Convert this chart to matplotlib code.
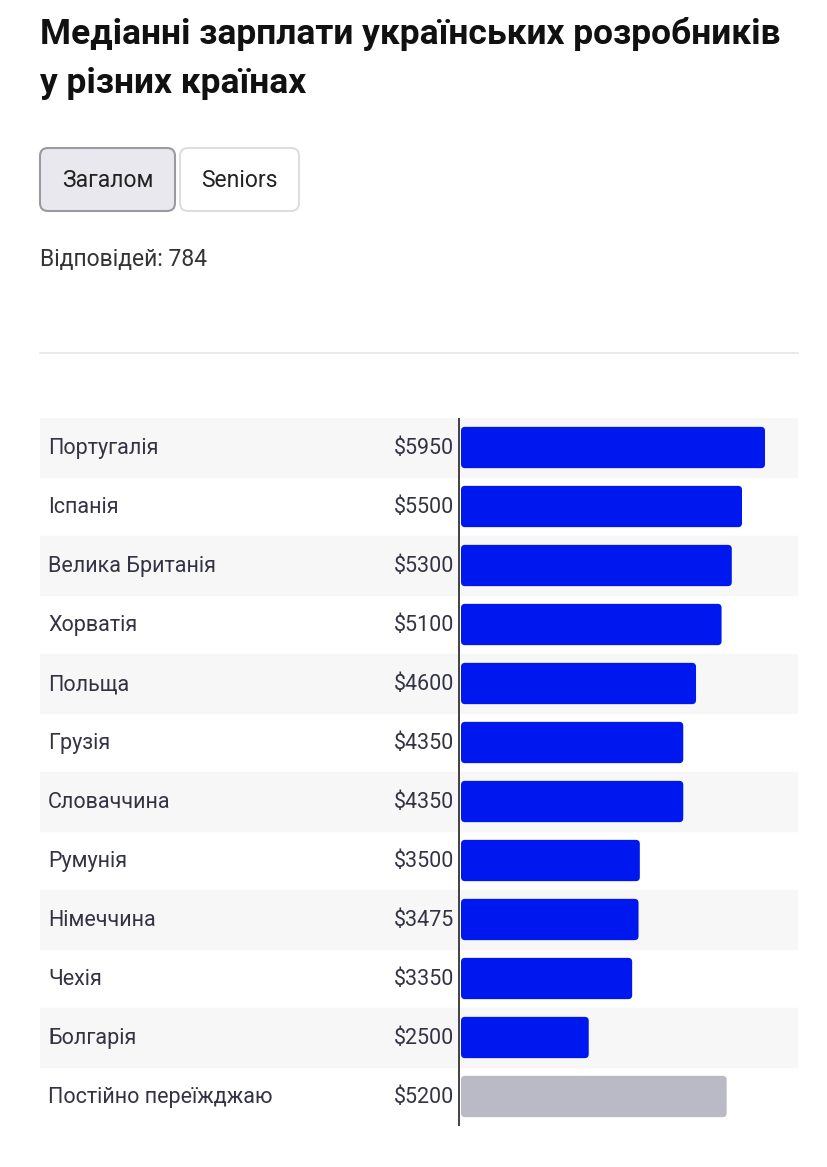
import matplotlib.pyplot as plt
from matplotlib.patches import FancyBboxPatch

plt.rcParams['font.family'] = ['Roboto', 'DejaVu Sans']

# data
countries = ['Португалія', 'Іспанія', 'Велика Британія', 'Хорватія', 'Польща',
             'Грузія', 'Словаччина', 'Румунія', 'Німеччина', 'Чехія',
             'Болгарія', 'Постійно переїжджаю']
salaries = [5950, 5500, 5300, 5100, 4600, 4350, 4350, 3500, 3475, 3350, 2500, 5200]
bar_colors = ['#0018f0'] * 11 + ['#babac6']
title = 'Медіанні зарплати українських розробників\nу різних країнах'
buttons = ['Загалом', 'Seniors']
answers = 'Відповідей: 784'

W, H = 828, 1167
fig = plt.figure(figsize=(W / 100, H / 100), dpi=100)

# background layer in pixel coords for header parts
bg = fig.add_axes([0, 0, 1, 1])
bg.set_xlim(0, W)
bg.set_ylim(H, 0)
bg.axis('off')

bg.text(40, 17, title, fontsize=25.5, fontweight='bold', color='#111111',
        va='top', ha='left', linespacing=1.6)

# buttons
btn_boxes = [(40, 148, 135, 63, '#e8e8ee', '#9a9aa0'),
             (180, 148, 119, 63, '#ffffff', '#dddde2')]
for label, (bx, by, bw, bh, fc, ec) in zip(buttons, btn_boxes):
    p = FancyBboxPatch((bx, by), bw, bh, boxstyle='round,pad=0,rounding_size=8',
                       fc=fc, ec=ec, lw=1.5)
    bg.add_patch(p)
    bg.text(bx + bw / 2, by + bh / 2 + 1, label, fontsize=16.5, color='#222222',
            ha='center', va='center')

bg.text(40, 259, answers, fontsize=16.5, color='#333333', ha='left', va='center')
bg.plot([40, 798], [353, 353], color='#e6e6e6', lw=1.2)

# chart axes
top, bottom = 418, 1126
ax = fig.add_axes([40 / W, 1 - bottom / H, 758 / W, (bottom - top) / H])
px_per_usd = (765 - 461) / 5950
ax.set_xlim(-(461 - 40) / px_per_usd, (798 - 461) / px_per_usd)
ax.set_ylim(len(countries) - 0.5, -0.5)
ax.axis('off')

n = len(countries)
for i in range(n):
    if i % 2 == 0:
        ax.axhspan(i - 0.5, i + 0.5, color='#f7f7f8', zorder=0)

bars = ax.barh(range(n), salaries, height=0.7, color=bar_colors)

# rounded corners
x_per_px = 1 / px_per_usd
y_per_px = n / (bottom - top)
for b, c in zip(bars, bar_colors):
    b.set_visible(False)
    rp = FancyBboxPatch((b.get_x(), b.get_y()), b.get_width(), b.get_height(),
                        boxstyle='round,pad=0,rounding_size=%f' % (4 * x_per_px),
                        mutation_aspect=y_per_px / x_per_px, fc=c, ec='none', zorder=2)
    ax.add_patch(rp)

ax.axvline(-1.5 * x_per_px, color='#333333', lw=1.3, zorder=3)

trans = ax.get_yaxis_transform()
for i, (name, val) in enumerate(zip(countries, salaries)):
    ax.text(8 / 758, i + 0.02, name, transform=trans, fontsize=15.5, color='#333344',
            ha='left', va='center')
    ax.text(-7 * x_per_px, i + 0.02, f'${val}', fontsize=15.5, color='#333344',
            ha='right', va='center')

fig.savefig('out.png', dpi=100)
